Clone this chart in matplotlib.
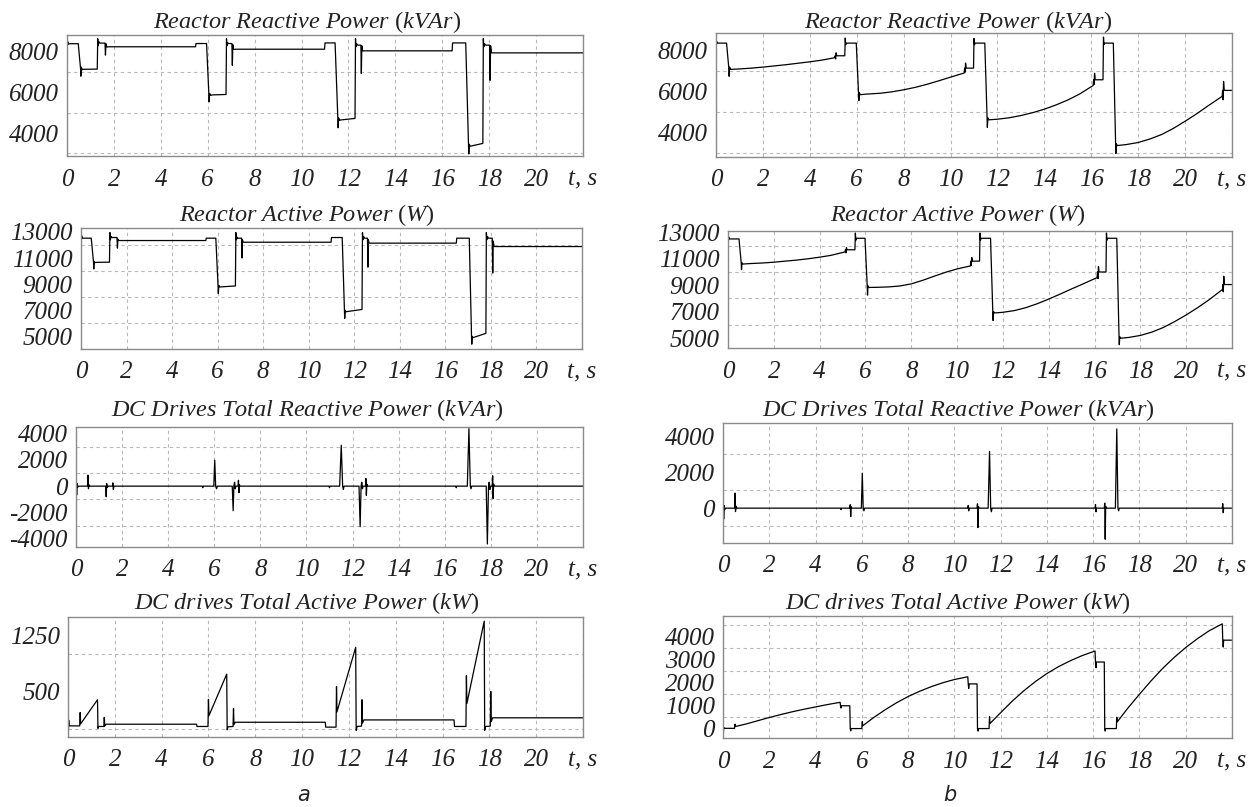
import matplotlib
matplotlib.use('Agg')  # no UI backend

import numpy as np
import matplotlib.pyplot as plt

plt.rcParams['font.family'] = ['Liberation Serif', 'DejaVu Serif']
plt.rcParams['axes.unicode_minus'] = False
plt.rcParams['mathtext.fontset'] = 'custom'
plt.rcParams['mathtext.rm'] = 'Liberation Serif'
plt.rcParams['mathtext.it'] = 'Liberation Serif:italic'

# ---------------- case a (left column) ----------------
a1_t = [0.00, 0.01, 0.03, 0.06, 0.10, 0.48, 0.58, 0.59, 0.61, 0.65, 0.70,
        1.29, 1.31, 1.33, 1.36, 1.40, 1.62, 1.64, 1.66, 1.70, 1.80,
        5.48, 5.50, 5.95, 6.05, 6.06, 6.08, 6.12, 6.20,
        6.78, 6.80, 6.82, 6.85, 6.88, 7.03, 7.05, 7.07, 7.10, 7.20,
        10.98, 11.00, 11.43, 11.55, 11.56, 11.58, 11.62, 11.70,
        12.28, 12.30, 12.32, 12.35, 12.40, 12.53, 12.55, 12.57, 12.60, 12.70,
        16.42, 16.44, 17.00, 17.12, 17.13, 17.15, 17.19, 17.30,
        17.73, 17.75, 17.77, 17.80, 17.85, 18.02, 18.04, 18.06, 18.10, 22.0]
a1_q = [8820, 8160, 8500, 8380, 8400, 8400, 7150, 6800, 7250, 7120, 7140,
        7150, 8650, 8300, 8500, 8430, 8430, 7840, 8400, 8240, 8250,
        8250, 8410, 8410, 5870, 5540, 5950, 5860, 5880,
        5900, 8650, 8300, 8450, 8410, 8410, 7340, 8350, 8120, 8130,
        8130, 8440, 8440, 4640, 4260, 4750, 4630, 4650,
        4720, 8650, 8250, 8400, 8330, 8330, 6930, 8300, 8050, 8050,
        8050, 8440, 8440, 3360, 2970, 3450, 3350, 3380,
        3490, 8650, 8250, 8400, 8330, 8330, 6600, 8300, 7950, 7950]

a2_t = [0.00, 0.01, 0.03, 0.06, 0.45, 0.55, 0.56, 0.58, 0.62, 0.70,
        1.25, 1.27, 1.29, 1.32, 1.36, 1.58, 1.60, 1.62, 1.66,
        5.48, 5.50, 5.92, 6.02, 6.03, 6.05, 6.09, 6.15, 6.78, 6.80, 6.82, 6.85, 6.88,
        7.05, 7.07, 7.09, 7.12,
        10.98, 11.00, 11.47, 11.57, 11.58, 11.60, 11.64, 11.70, 12.34, 12.36, 12.38,
        12.41, 12.45, 12.58, 12.60, 12.62, 12.65,
        16.48, 16.50, 17.05, 17.15, 17.16, 17.18, 17.22, 17.30, 17.78, 17.80, 17.82,
        17.85, 17.89, 18.06, 18.08, 18.10, 18.14, 22.0]
a2_p = [13000, 12200, 12700, 12520, 12520, 10670, 10160, 10750, 10650, 10670,
        10680, 12950, 12400, 12650, 12570, 12570, 11760, 12450, 12340,
        12340, 12520, 12520, 8790, 8280, 8900, 8780, 8790, 8860, 12950, 12400, 12600, 12520,
        12520, 11000, 12400, 12210,
        12210, 12570, 12570, 6880, 6380, 7000, 6880, 6900, 7060, 12950, 12400,
        12650, 12520, 12520, 10300, 12400, 12140,
        12140, 12520, 12520, 4900, 4400, 5000, 4900, 4950, 5230, 12950, 12400,
        12650, 12520, 12520, 9850, 12300, 11880, 11880]

a3_t = [0.00, 0.01, 0.03, 0.05, 0.07, 0.10, 0.50, 0.52, 0.54, 0.57, 0.60,
        1.29, 1.31, 1.33, 1.36, 1.40, 1.58, 1.60, 1.62, 1.65,
        5.48, 5.50, 5.52, 5.98, 6.02, 6.06, 6.10, 6.13,
        6.78, 6.82, 6.85, 6.88, 6.91, 6.94, 7.03, 7.05, 7.07, 7.09, 7.12,
        10.98, 11.00, 11.02, 11.44, 11.51, 11.57, 11.60, 11.63,
        12.28, 12.33, 12.37, 12.40, 12.43, 12.46, 12.56, 12.58, 12.60, 12.62, 12.66,
        16.48, 16.50, 16.52, 16.98, 17.05, 17.11, 17.14, 17.17,
        17.80, 17.85, 17.90, 17.93, 17.96, 17.99, 18.06, 18.08, 18.10, 18.12, 18.16, 22.0]
a3_q = [0, 580, -680, 200, -100, 0, 0, 835, -200, 100, 0,
        0, -810, 200, -100, 0, 0, 250, -250, 0,
        0, -120, 0, 0, 1975, 0, -200, 0,
        0, -1870, 0, 300, -200, 0, 0, 450, -500, 100, 0,
        0, -120, 0, 0, 3110, 0, -250, 0,
        0, -3090, 0, 300, -200, 0, 0, 580, -700, 150, 0,
        0, -120, 0, 0, 4380, 0, -200, 0,
        0, -4400, 0, 300, -250, 0, 0, 785, -940, 150, 0, 0]

a4_t = [0.00, 0.01, 0.03, 0.05, 0.50, 0.52, 0.54, 1.26, 1.28, 1.30, 1.53, 1.55, 1.57, 1.62,
        5.49, 5.51, 5.98, 6.00, 6.02, 6.78, 6.80, 6.83, 7.05, 7.07, 7.09, 7.14,
        10.99, 11.01, 11.45, 11.47, 11.49, 12.29, 12.31, 12.35, 12.54, 12.56, 12.58, 12.64,
        16.49, 16.51, 17.00, 17.02, 17.04, 17.78, 17.80, 17.84, 18.04, 18.06, 18.08, 18.14, 22.0]
a4_p = [300, -95, 120, 43, 43, 220, 70, 390, 10, 35, 35, 157, 40, 65,
        65, 35, 35, 395, 178, 730, -10, 30, 35, 274, 60, 91,
        91, 26, 26, 565, 230, 1087, -17, 35, 40, 390, 80, 122,
        122, 35, 35, 710, 340, 1435, -17, 35, 40, 500, 100, 150, 150]

# ---------------- case b (right column) ----------------
b1_t = [0.00, 0.01, 0.03, 0.06, 0.45, 0.55, 0.56, 0.58, 0.62,
        1.0, 1.5, 2.0, 2.5, 3.0, 3.5, 4.0, 4.5, 5.06, 5.08, 5.10, 5.12, 5.15,
        5.49, 5.51, 5.53, 5.56, 5.98, 6.08, 6.09, 6.11, 6.15,
        6.43, 7.0, 7.5, 8.0, 8.5, 9.0, 9.5, 10.0, 10.58, 10.60, 10.62, 10.64, 10.67,
        10.98, 11.00, 11.02, 11.05, 11.46, 11.56, 11.57, 11.59, 11.63,
        12.0, 12.5, 13.0, 13.5, 14.0, 14.5, 15.0, 15.5, 16.08, 16.10, 16.12, 16.14, 16.17,
        16.50, 16.52, 16.54, 16.57, 16.94, 17.04, 17.05, 17.07, 17.11,
        17.5, 18.0, 18.5, 19.0, 19.5, 20.0, 20.5, 21.0, 21.58, 21.60, 21.62, 21.64, 21.67, 22.0]
b1_q = [8780, 8160, 8450, 8375, 8375, 7100, 6750, 7200, 7090,
        7110, 7150, 7200, 7260, 7320, 7390, 7460, 7540, 7660, 7755, 7600, 7900, 7755,
        7755, 8620, 8300, 8375, 8375, 5850, 5560, 5950, 5850,
        5880, 5920, 5990, 6090, 6210, 6360, 6530, 6710, 6910, 7150, 6950, 7400, 7150,
        7150, 8600, 8300, 8375, 8375, 4630, 4250, 4720, 4620,
        4650, 4720, 4830, 4970, 5140, 5350, 5590, 5880, 6300, 6580, 6350, 6900, 6580,
        6580, 8670, 8300, 8375, 8375, 3360, 2970, 3450, 3360,
        3410, 3510, 3680, 3900, 4200, 4550, 4920, 5320, 5770, 6060, 5600, 6500, 6060, 6060]

b2_t = [0.00, 0.01, 0.03, 0.06, 0.48, 0.58, 0.59, 0.61, 0.65,
        1.0, 1.5, 2.0, 2.5, 3.0, 3.5, 4.0, 4.5, 5.11, 5.13, 5.15, 5.17, 5.20,
        5.54, 5.56, 5.58, 5.61, 5.98, 6.08, 6.09, 6.11, 6.15,
        6.5, 7.0, 7.5, 8.0, 8.5, 9.0, 9.5, 10.0, 10.58, 10.60, 10.62, 10.64, 10.67,
        10.98, 11.00, 11.02, 11.05, 11.46, 11.56, 11.57, 11.59, 11.63,
        12.0, 12.5, 13.0, 13.5, 14.0, 14.5, 15.0, 15.5, 16.11, 16.13, 16.15, 16.17, 16.20,
        16.50, 16.52, 16.54, 16.57, 16.97, 17.07, 17.08, 17.10, 17.14,
        17.5, 18.0, 18.5, 19.0, 19.5, 20.0, 20.5, 21.0, 21.58, 21.60, 21.62, 21.64, 21.67, 22.0]
b2_p = [13000, 12150, 12650, 12500, 12500, 10620, 10180, 10700, 10600,
        10640, 10680, 10740, 10820, 10900, 11000, 11120, 11260, 11520, 11700, 11450, 11850, 11680,
        11680, 12950, 12400, 12550, 12550, 8830, 8250, 8950, 8830,
        8840, 8870, 8940, 9100, 9370, 9680, 9980, 10230, 10460, 10820, 10500, 11100, 10820,
        10820, 12950, 12400, 12550, 12550, 6920, 6330, 7000, 6900,
        6950, 7080, 7300, 7600, 7950, 8330, 8720, 9100, 9575, 10000, 9500, 10420, 10000,
        10000, 12950, 12400, 12550, 12550, 5000, 4500, 5100, 4990,
        5050, 5200, 5450, 5800, 6250, 6750, 7300, 7900, 8670, 9050, 8500, 9680, 9050, 9050]

b3_t = [0.00, 0.01, 0.03, 0.05, 0.07, 0.10, 0.50, 0.52, 0.54, 0.57, 0.60,
        5.08, 5.10, 5.12, 5.48, 5.50, 5.52, 5.54, 5.57, 5.98, 6.02, 6.06, 6.09, 6.12,
        10.58, 10.60, 10.62, 10.64, 10.98, 11.00, 11.02, 11.04, 11.07,
        11.46, 11.52, 11.57, 11.60, 11.63,
        16.08, 16.10, 16.12, 16.14, 16.48, 16.50, 16.52, 16.54, 16.57,
        16.96, 17.02, 17.07, 17.10, 17.13, 21.58, 21.60, 21.62, 21.64, 22.0]
b3_q = [0, 560, -610, 150, -100, 0, 0, 840, -190, 100, 0,
        0, -80, 0, 0, 190, -470, 80, 0, 0, 1950, 0, -150, 0,
        0, 150, -150, 0, 0, 240, -1080, 100, 0,
        0, 3160, 0, -200, 0,
        0, 200, -200, 0, 0, 280, -1730, 100, 0,
        0, 4410, 0, -150, 0, 0, 250, -250, 0, 0]

b4_t = [0.00, 0.01, 0.03, 0.05, 0.50, 0.52, 0.54,
        1.0, 1.5, 2.0, 2.5, 3.0, 3.5, 4.0, 4.5, 5.06,
        5.08, 5.10, 5.12, 5.48, 5.50, 5.52, 5.54, 6.00, 6.02, 6.04,
        6.5, 7.0, 7.5, 8.0, 8.5, 9.0, 9.5, 10.0, 10.58,
        10.60, 10.62, 10.64, 10.98, 11.00, 11.02, 11.04, 11.50, 11.52, 11.54,
        12.0, 12.5, 13.0, 13.5, 14.0, 14.5, 15.0, 15.5, 16.08,
        16.10, 16.12, 16.14, 16.48, 16.50, 16.52, 16.54, 17.00, 17.02, 17.04,
        17.5, 18.0, 18.5, 19.0, 19.5, 20.0, 20.5, 21.0, 21.58,
        21.60, 21.62, 21.64, 22.0]
b4_p = [265, -350, 60, 20, 20, 200, 100,
        210, 350, 490, 620, 740, 850, 950, 1050, 1150,
        1000, 900, 1000, 1000, 0, -90, 10, 10, 310, 130,
        480, 820, 1130, 1400, 1630, 1830, 2000, 2140, 2260,
        1950, 1750, 1950, 1950, 0, -100, 10, 10, 530, 230,
        700, 1200, 1650, 2050, 2400, 2700, 2950, 3170, 3380,
        2900, 2650, 2900, 2900, 0, -100, 10, 10, 500, 300,
        900, 1500, 2080, 2620, 3100, 3530, 3910, 4250, 4560,
        3850, 3550, 3850, 3850]

titles = [r'$\mathit{Reactor\ Reactive\ Power}\ \mathrm{(}\mathit{kVAr}\mathrm{)}$',
          r'$\mathit{Reactor\ Active\ Power}\ \mathrm{(}\mathit{W}\mathrm{)}$',
          r'$\mathit{DC\ Drives\ Total\ Reactive\ Power}\ \mathrm{(}\mathit{kVAr}\mathrm{)}$',
          r'$\mathit{DC\ drives\ Total\ Active\ Power}\ \mathrm{(}\mathit{kW}\mathrm{)}$']

W, H = 1259, 807

# pixel boxes of each frame: left, top, right, bottom
boxes_a = [(67, 35, 583, 156), (81, 228, 582, 349), (76, 427, 583, 547), (68, 617, 583, 737)]
boxes_b = [(716, 33, 1232, 157), (728, 231, 1232, 348), (723, 423, 1232, 543), (723, 616, 1232, 738)]
title_y = [22, 215, 410, 603]

panels_a = [
    (a1_t, a1_q, [4000, 6000, 8000], np.arange(3000, 8001, 1000), (2870, 8830)),
    (a2_t, a2_p, [5000, 7000, 9000, 11000, 13000], np.arange(5000, 13001, 1000), (4030, 13300)),
    (a3_t, a3_q, [-4000, -2000, 0, 2000, 4000], np.arange(-4000, 4001, 1000), (-4630, 4500)),
    (a4_t, a4_p, [500, 1250], [0, 500, 1000], (-105, 1490)),
]
panels_b = [
    (b1_t, b1_q, [4000, 6000, 8000], np.arange(3000, 8001, 1000), (2800, 8870)),
    (b2_t, b2_p, [5000, 7000, 9000, 11000, 13000], np.arange(5000, 13001, 1000), (4250, 13100)),
    (b3_t, b3_q, [0, 2000, 4000], np.arange(-1000, 4001, 1000), (-1940, 4740)),
    (b4_t, b4_p, [0, 1000, 2000, 3000, 4000], np.arange(0, 4501, 500), (-400, 4900)),
]

fig = plt.figure(figsize=(W / 100, H / 100), dpi=100)

xt = list(range(0, 21, 2)) + [22]
xl = [str(v) for v in range(0, 21, 2)] + ['t, s']

def draw(box, panel, title, tx, ty):
    l, t, r, b = box
    ax = fig.add_axes([l / W, 1 - b / H, (r - l) / W, (b - t) / H])
    tt, vv, yt, yg, yl = panel
    ax.plot(tt, vv, color='black', linewidth=0.9)
    ax.set_xlim(0, 22)
    ax.set_ylim(*yl)
    ax.set_xticks(xt)
    ax.set_xticklabels(xl)
    ax.set_yticks(yt)
    ax.set_yticklabels([str(v) for v in yt])
    ax.set_yticks(yg, minor=True)
    ax.tick_params(which='both', length=0, labelsize=18, colors='#222222')
    ax.tick_params(axis='x', pad=9)
    ax.tick_params(axis='y', pad=6)
    for lab in ax.get_xticklabels() + ax.get_yticklabels():
        lab.set_fontstyle('italic')
    ax.grid(True, which='major', axis='x', color='#b8b8b8', linestyle=(0, (3, 3)), linewidth=0.8)
    ax.grid(True, which='minor', axis='y', color='#b8b8b8', linestyle=(0, (3, 3)), linewidth=0.8)
    for s in ax.spines.values():
        s.set_color('#8a8a8a')
        s.set_linewidth(1.0)
    fig.text(tx / W, 1 - ty / H, title, ha='center', va='center', fontsize=17.5, color='#222222')

for i in range(4):
    draw(boxes_a[i], panels_a[i], titles[i], 307, title_y[i])
    draw(boxes_b[i], panels_b[i], titles[i], 958, title_y[i])

fig.text(304 / W, 1 - 795 / H, 'a', ha='center', va='center', fontsize=15,
         family='DejaVu Sans', style='italic', color='#222222')
fig.text(950 / W, 1 - 795 / H, 'b', ha='center', va='center', fontsize=15,
         family='DejaVu Sans', style='italic', color='#222222')

plt.savefig('out.png', dpi=100)
